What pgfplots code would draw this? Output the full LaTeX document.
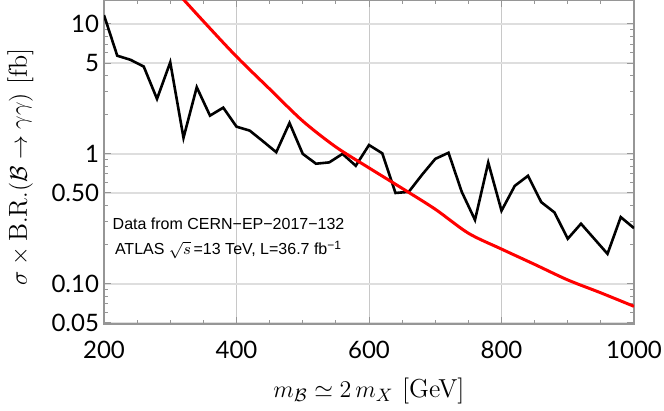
\documentclass[border=0pt]{standalone}
\usepackage{fontspec}
\usepackage{pgfplots}
\pgfplotsset{compat=1.18}
\usetikzlibrary{calc}
\newfontfamily\tickfont{Lato}
\newfontfamily\notefont{Liberation Sans}
\definecolor{framegray}{RGB}{150,150,150}
\definecolor{hgrid}{RGB}{222,222,222}
\definecolor{vgrid}{RGB}{200,200,200}

% observed limit, ATLAS 36.7 fb^-1
\pgfplotstableread{
m    xs
200  11.7
220  5.7
240  5.3
260  4.7
280  2.65
300  5.07
320  1.33
340  3.26
360  1.97
380  2.27
400  1.62
420  1.51
440  1.25
460  1.03
480  1.73
500  1.00
520  0.84
540  0.86
560  1.00
580  0.81
600  1.17
620  1.01
640  0.50
660  0.51
680  0.69
700  0.915
720  1.02
740  0.51
760  0.31
780  0.857
800  0.365
820  0.567
840  0.678
860  0.425
880  0.354
900  0.222
920  0.29
940  0.222
960  0.170
980  0.326
1000 0.268
}\atlasdata

% model prediction
\pgfplotstableread{
m    xs
300  20.0
350  10.5
400  5.61
450  3.16
500  1.79
550  1.13
600  0.78
650  0.543
700  0.375
750  0.245
800  0.185
850  0.141
900  0.107
950  0.0851
1000 0.067
}\modeldata

\begin{document}
\begin{tikzpicture}
\begin{axis}[
  name=ax,
  scale only axis,
  width=265pt, height=162pt,
  xmin=200, xmax=1000,
  ymode=log, ymin=0.049, ymax=15.3,
  xtick={200,400,...,1000},
  xticklabels={200,400,600,800,1000},
  minor xtick={250,300,...,950},
  ytick={0.05,0.1,0.5,1,5,10},
  yticklabels={0.05,0.10,0.50,1,5,10},
  minor ytick={0.06,0.07,0.08,0.09,0.2,0.3,0.4,0.6,0.7,0.8,0.9,2,3,4,6,7,8,9},
  tick label style={font=\tickfont\fontsize{12}{12}\selectfont},
  xticklabel style={yshift=-5pt},
  yticklabel style={xshift=1pt},
  axis line style={framegray, line width=0.6pt},
  tick style={framegray, line width=0.5pt},
  major tick length=3.5pt, minor tick length=2pt,
  xmajorgrids, ymajorgrids,
  x grid style={vgrid, line width=0.5pt},
  y grid style={hgrid, line width=0.8pt},
  xlabel={$m_{\mathcal{B}}\simeq 2\,m_X$ [GeV]},
  ylabel={$\sigma\times\mathrm{B.R.}(\mathcal{B}\to\gamma\gamma)$ [fb]},
  label style={font=\fontsize{13}{15}\selectfont},
  xlabel style={at={(axis description cs:0.5,-0.207)}, anchor=center},
  ylabel style={at={(axis description cs:-0.158,0.485)}, anchor=center},
]
\addplot[black, line width=1.3pt] table[x=m, y=xs] {\atlasdata};
\addplot[red, line width=1.5pt, smooth] table[x=m, y=xs] {\modeldata};
\node[font=\notefont\fontsize{8}{8}\selectfont, anchor=center]
  at (axis cs:388,0.29) {Data from CERN−EP−2017−132};
\node[font=\notefont\fontsize{8}{8}\selectfont, anchor=center]
  at (axis cs:388,0.183) {ATLAS $\sqrt{s}$\,=13 TeV, L=36.7 fb\textsuperscript{−1}};
\end{axis}
\pgfresetboundingbox
\path[use as bounding box] ($(ax.south west)+(-52pt,-43pt)$) rectangle ($(ax.north east)+(15pt,0pt)$);
\end{tikzpicture}
\end{document}
